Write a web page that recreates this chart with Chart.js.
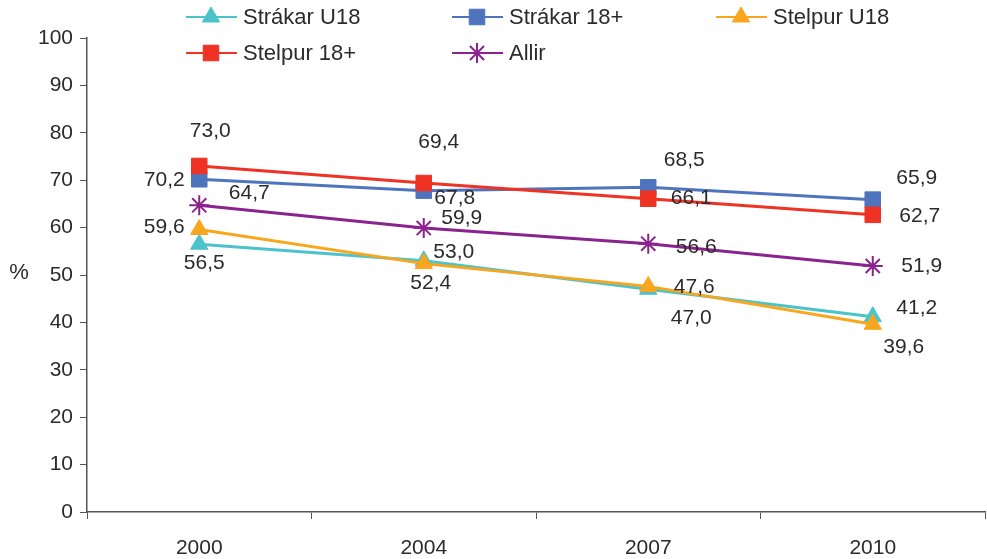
<!DOCTYPE html>
<html>
<head>
<meta charset="utf-8">
<script src="https://cdn.jsdelivr.net/npm/chart.js@4/dist/chart.umd.min.js"></script>
<style>
  html, body { margin: 0; padding: 0; background: #fff; overflow: hidden; }
  canvas { display: block; }
</style>
</head>
<body>
<canvas id="myChart" width="987" height="559"></canvas>
<script>
const years = ['2000', '2004', '2007', '2010'];
const strakarU18 = [56.5, 53.0, 47.0, 41.2];
const strakar18 = [70.2, 67.8, 68.5, 65.9];
const stelpurU18 = [59.6, 52.4, 47.6, 39.6];
const stelpur18 = [73.0, 69.4, 66.1, 62.7];
const allir = [64.7, 59.9, 56.6, 51.9];

// where each value label sits relative to its point (px)
const labelOffsets = [
    [[5, 19], [30, -9], [43, 29], [44, -9]],
    [[-35, 1], [31, 8], [36, -27], [44, -21]],
    [[-35, -2], [7, 20], [46, 1], [31, 23]],
    [[11, -35], [15, -41], [43, 0], [47, 1]],
    [[50, -12], [38, -10], [48, 3], [49, 0]]
];

const FONT = '"Liberation Sans", Arial, sans-serif';
const TEXT = '#2b2b2b';

function series(label, data, color, style, radius, order) {
    return {
        label: label,
        data: data,
        borderColor: color,
        backgroundColor: color,
        borderWidth: 3,
        pointStyle: style,
        pointRadius: radius,
        pointHoverRadius: radius,
        pointBorderWidth: style === 'star' ? 2 : 1,
        order: order
    };
}

const valueLabels = {
    id: 'valueLabels',
    afterDatasetsDraw(chart) {
        const ctx = chart.ctx;
        ctx.save();
        ctx.font = '21px ' + FONT;
        ctx.fillStyle = TEXT;
        ctx.textAlign = 'center';
        ctx.textBaseline = 'middle';
        chart.data.datasets.forEach((ds, i) => {
            const meta = chart.getDatasetMeta(i);
            meta.data.forEach((pt, j) => {
                const off = labelOffsets[i][j];
                ctx.fillText(ds.data[j].toFixed(1).replace('.', ','), pt.x + off[0], pt.y + off[1]);
            });
        });
        ctx.restore();
    }
};

const customLegend = {
    id: 'customLegend',
    afterDraw(chart) {
        const ctx = chart.ctx;
        const spots = [[186, 17], [452, 17], [716, 17], [186, 53], [452, 53]];
        ctx.save();
        chart.data.datasets.forEach((ds, i) => {
            const x = spots[i][0], y = spots[i][1];
            ctx.strokeStyle = ds.borderColor;
            ctx.fillStyle = ds.backgroundColor;
            ctx.lineWidth = 2;
            ctx.beginPath();
            ctx.moveTo(x, y);
            ctx.lineTo(x + 51, y);
            ctx.stroke();
            ctx.lineWidth = ds.pointBorderWidth;
            Chart.helpers.drawPoint(ctx, {
                pointStyle: ds.pointStyle,
                radius: ds.pointRadius,
                rotation: 0,
                borderWidth: ds.pointBorderWidth
            }, x + 25, y);
            ctx.font = '22px ' + FONT;
            ctx.fillStyle = TEXT;
            ctx.textAlign = 'left';
            ctx.textBaseline = 'middle';
            ctx.fillText(ds.label, x + 57, y + 1);
        });
        // y axis unit
        ctx.font = '22px ' + FONT;
        ctx.fillStyle = TEXT;
        ctx.textAlign = 'center';
        ctx.fillText('%', 19, 273);
        ctx.restore();
    }
};

document.addEventListener("DOMContentLoaded", myLoadEvent);

function myLoadEvent() {
    const ctx = document.getElementById('myChart');

    new Chart(ctx, {
        type: 'line',
        data: {
            labels: years,
            datasets: [
                series('Strákar U18', strakarU18, '#4cc3cb', 'triangle', 10, 5),
                series('Strákar 18+', strakar18, '#4f74be', 'rect', 11, 4),
                series('Stelpur U18', stelpurU18, '#f8a61e', 'triangle', 10, 2),
                series('Stelpur 18+', stelpur18, '#ee3224', 'rect', 11, 1),
                series('Allir', allir, '#8a238e', 'star', 10, 3)
            ]
        },
        options: {
            responsive: false,
            animation: false,
            layout: {
                autoPadding: false,
                padding: { top: 38, right: 2, left: 0, bottom: 0 }
            },
            plugins: {
                legend: { display: false },
                tooltip: { enabled: false }
            },
            scales: {
                x: {
                    offset: true,
                    grid: {
                        offset: true,
                        drawOnChartArea: false,
                        color: '#555',
                        tickLength: 7
                    },
                    border: { color: '#555', width: 1.5 },
                    ticks: {
                        color: TEXT,
                        font: { family: FONT, size: 21 },
                        padding: 17
                    },
                    afterFit(s) { s.height = 47; }
                },
                y: {
                    min: 0,
                    max: 100,
                    ticks: {
                        stepSize: 10,
                        color: TEXT,
                        font: { family: FONT, size: 21 },
                        padding: 7
                    },
                    grid: {
                        drawOnChartArea: false,
                        color: '#555',
                        tickLength: 7
                    },
                    border: { color: '#555', width: 1.5 },
                    afterFit(s) { s.width = 87; }
                }
            }
        },
        plugins: [valueLabels, customLegend]
    });
}
</script>
</body>
</html>
